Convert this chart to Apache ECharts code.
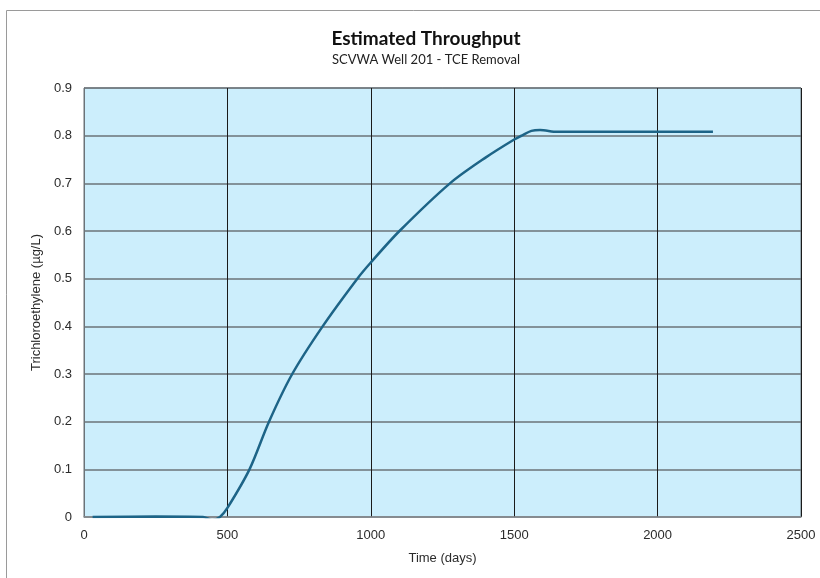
<!DOCTYPE html>
<html>
<head>
<meta charset="utf-8">
<script src="https://cdn.jsdelivr.net/npm/echarts@6/dist/echarts.min.js"></script>
<style>
  html, body { margin: 0; padding: 0; background: #fff; }
  #chart { width: 820px; height: 578px; }
</style>
</head>
<body>
<div id="chart"></div>
<script>
// 读图所得：时间（天）与 TCE 浓度（µg/L）
const timeDays = [30, 250, 415, 447, 474, 500, 577, 645, 726, 832, 953, 1000, 1100, 1276, 1400, 1500, 1526, 1560, 1590, 1650, 1800, 2000, 2193];
const tceConc = [0, 0.001, 0, -0.006, 0, 0.019, 0.1, 0.2, 0.3, 0.4, 0.5, 0.534, 0.6, 0.7, 0.754, 0.792, 0.8, 0.81, 0.812, 0.808, 0.808, 0.808, 0.808];
const xTicks = [0, 500, 1000, 1500, 2000, 2500];
const yTicks = [0, 0.1, 0.2, 0.3, 0.4, 0.5, 0.6, 0.7, 0.8, 0.9];

const LINE_COLOR = "#1d6487";
const PLOT_BG = "#cceefc";
const LABEL_FONT = "'Liberation Sans', Arial, sans-serif";

const chart = echarts.init(document.getElementById("chart"), null, { renderer: "canvas" });

chart.setOption({
  animation: false,
  backgroundColor: "#fff",
  title: {
    text: "Estimated Throughput",
    subtext: "SCVWA Well 201 - TCE Removal",
    left: 421,
    textAlign: "center",
    top: 24,
    itemGap: 5,
    textStyle: { fontFamily: "Lato, sans-serif", fontSize: 19, fontWeight: "bold", color: "#111" },
    subtextStyle: { fontFamily: "Lato, sans-serif", fontSize: 13, color: "#222" },
  },
  graphic: [
    {
      type: "rect",
      shape: { x: 6.5, y: 10.5, width: 830, height: 600 },
      style: { fill: "none", stroke: "#9a9a9a", lineWidth: 1 },
      silent: true,
    },
  ],
  grid: {
    left: 84,
    right: 19,
    top: 88,
    bottom: 61,
    show: true,
    backgroundColor: PLOT_BG,
    borderColor: "#6b7378",
    borderWidth: 1,
  },
  xAxis: {
    type: "value",
    min: xTicks[0],
    max: xTicks[xTicks.length - 1],
    interval: 500,
    name: "Time (days)",
    nameLocation: "middle",
    nameGap: 35,
    nameTextStyle: { fontFamily: LABEL_FONT, fontSize: 13, color: "#2b2b2b" },
    axisLine: { show: true, lineStyle: { color: "#8a8f92", width: 1.5 } },
    axisTick: { show: false },
    axisLabel: {
      fontFamily: LABEL_FONT,
      fontSize: 13,
      color: "#2b2b2b",
      margin: 12,
      formatter: (v) => String(v),
    },
    splitLine: { show: true, lineStyle: { color: "#1a1a1a", width: 1 } },
  },
  yAxis: {
    type: "value",
    min: yTicks[0],
    max: yTicks[yTicks.length - 1],
    interval: 0.1,
    name: "Trichloroethylene (µg/L)",
    nameLocation: "middle",
    nameGap: 38,
    nameTextStyle: { fontFamily: LABEL_FONT, fontSize: 13, color: "#2b2b2b" },
    axisLine: { show: true, lineStyle: { color: "#6b7378", width: 1 } },
    axisTick: { show: false },
    axisLabel: {
      fontFamily: LABEL_FONT,
      fontSize: 13,
      color: "#2b2b2b",
      margin: 12,
      formatter: (v) => (v === 0 ? "0" : Number(v).toFixed(1)),
    },
    splitLine: { show: true, lineStyle: { color: "#6b7378", width: 1.5 } },
  },
  series: [
    {
      name: "TCE",
      type: "line",
      data: timeDays.map((t, i) => [t, tceConc[i]]),
      showSymbol: false,
      smooth: 0.3,
      lineStyle: { color: LINE_COLOR, width: 2.5 },
    },
  ],
});
</script>
</body>
</html>
